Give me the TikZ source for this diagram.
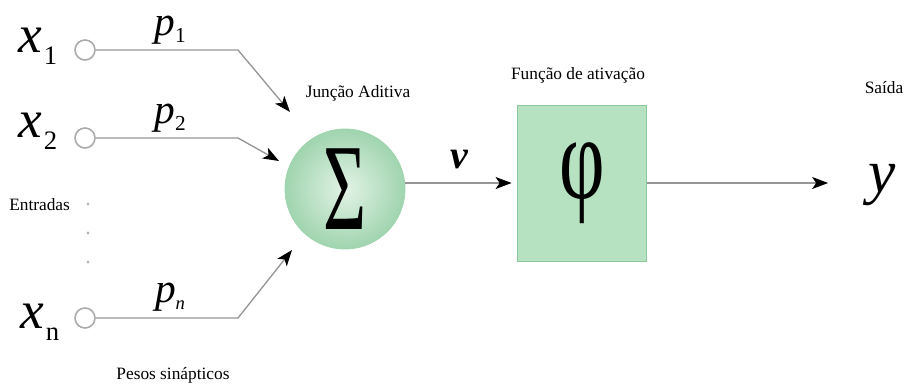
\documentclass[tikz,border=0pt]{standalone}
\usepackage{fontspec}
\setmainfont{Liberation Serif}
\usepackage{tikz}
\usetikzlibrary{arrows.meta,positioning}

\definecolor{wire}{RGB}{150,150,150}
\definecolor{sumfill}{RGB}{214,238,219}
\definecolor{sumedge}{RGB}{160,212,175}
\definecolor{boxfill}{RGB}{182,226,193}
\definecolor{boxedge}{RGB}{140,200,155}

\tikzset{
  inport/.style={circle,draw=wire!80,line width=1.2pt,minimum size=15pt,inner sep=0pt},
  wirel/.style={draw=wire,line width=1pt},
  wirea/.style={wirel,-{Stealth[black,length=12pt,width=9pt,inset=3pt]}},
  lbl/.style={font=\fontsize{13}{14}\selectfont,inner sep=0pt},
  xlbl/.style={font=\fontsize{40}{40}\selectfont\itshape,inner sep=0pt},
  plbl/.style={font=\fontsize{31}{31}\selectfont\itshape,inner sep=0pt}
}

\begin{document}
\begin{tikzpicture}[x=0.75pt,y=-0.75pt]
	\useasboundingbox (0,0) rectangle (906,388);
	% inputs
	\node[inport] (x1c) at (85,50) {};
	\node[inport] (x2c) at (85,138) {};
	\node[inport] (xnc) at (85,318) {};
	\node[xlbl] (x1) at (38,46) {x\kern1pt\raisebox{-9pt}{\fontsize{20}{20}\selectfont\upshape 1}};
	\node[xlbl] (x2) at (38,131) {x\kern1pt\raisebox{-9pt}{\fontsize{20}{20}\selectfont\upshape 2}};
	\node[xlbl] (xn) at (40,322) {x\kern1pt\raisebox{-9pt}{\fontsize{20}{20}\selectfont\upshape n}};
	\node[lbl,anchor=west] (entr) at (9,205) {Entradas};
	\foreach \yy in {204,233,262}
		\fill[wire!70] (88,\yy) circle (1.2pt);
	% weights
	\node[plbl] (p1) at (170,30) {p\raisebox{-5pt}{\fontsize{16}{16}\selectfont\upshape 1}};
	\node[plbl] (p2) at (170,118) {p\raisebox{-5pt}{\fontsize{16}{16}\selectfont\upshape 2}};
	\node[plbl] (pn) at (170,297) {p\raisebox{-5pt}{\fontsize{14}{14}\selectfont n}};
	\node[lbl] (pesos) at (173,375) {Pesos sinápticos};
	% summing junction
	\node[circle,minimum size=90pt,inner sep=0pt,draw=sumedge,line width=0.6pt,
		inner color=sumfill!70!white,outer color=sumedge] (sum) at (345,189)
		{\scalebox{0.75}[1.25]{\fontsize{74}{74}\selectfont Σ}};
	\node[lbl] (junc) at (358,93) {Junção Aditiva};
	% activation
	\node[rectangle,fill=boxfill,draw=boxedge,line width=0.6pt,minimum width=97pt,
		minimum height=117pt,inner sep=0pt] (phi) at (582,183)
		{\scalebox{0.8}[1.2]{\fontsize{74}{74}\selectfont φ}};
	\node[lbl] (func) at (578,75) {Função de ativação};
	\node[lbl] (said) at (884,88) {Saída};
	\node[font=\fontsize{46}{46}\selectfont\itshape,inner sep=0pt] (y) at (882,185) {y};
	\node[font=\fontsize{30}{30}\selectfont\bfseries\itshape,inner sep=0pt] (v) at (459,160) {v};
	% connectors
	\coordinate (b1) at (238,50);
	\coordinate (b2) at (238,138);
	\coordinate (bn) at (238,318);
	\coordinate (a1) at (290,112);
	\coordinate (a2) at (279,161);
	\coordinate (an) at (292,250);
	\draw[wirea] (x1c) -- (b1) -- (a1);
	\draw[wirea] (x2c) -- (b2) -- (a2);
	\draw[wirea] (xnc) -- (bn) -- (an);
	\draw[wirea,shorten >=4pt] (sum.east |- phi.west) -- (phi.west);
	\draw[wirea,shorten >=30pt] (phi.east) -- (phi.east -| y.west);
\end{tikzpicture}
\end{document}
